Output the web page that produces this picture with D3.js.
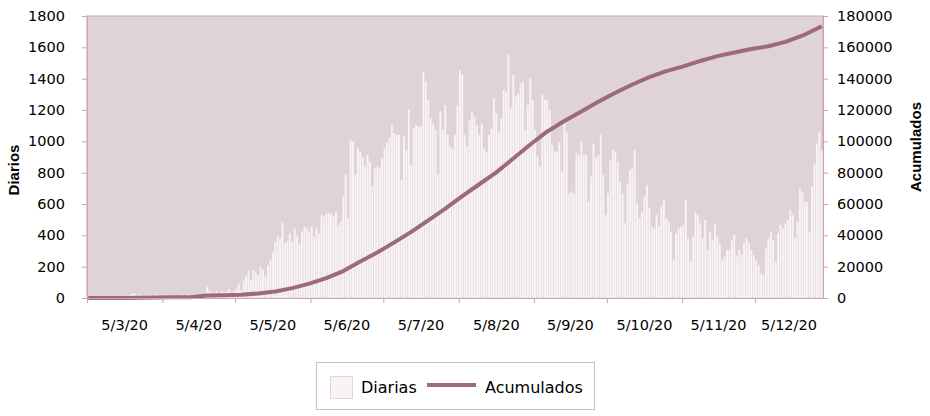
<!DOCTYPE html>
<html>
<head>
<meta charset="utf-8">
<script src="https://cdn.jsdelivr.net/npm/d3@7"></script>
<style>
  body { margin: 0; background: #fff; }
  svg text { font-family: "DejaVu Sans", sans-serif; fill: #000; }
  .axis .domain, .axis line { stroke: #cfa2b2; }
</style>
</head>
<body>
<svg id="chart" width="930" height="416"></svg>
<script>
"use strict";

// --- data ---

const fechaInicio = "2020-03-05"
const fechaFin = "2021-01-02"   // axis end, one day after the last bar

// casos diarios, one value per day from 5/3/20
const diarios = [
    0,0,0,0,0,0,0,0,0,0,0,2,0,3,5,
    12,4,18,25,30,10,22,8,15,20,
    18,22,12,25,20,10,18,22,15,8,
    20,12,5,15,22,10,25,20,8,15,
    18,5,12,20,70,45,30,35,40,25,
    45,35,40,55,30,45,60,90,50,110,
    140,170,
    115,179,160,147,200,179,136,210,243,290,
    360,396,381,481,349,360,413,360,445,400,
    349,423,455,445,423,455,391,445,413,530,
    519,540,540,540,520,551,466,487,647,785,
    509,1009,998,785,955,934,900,838,913,870,
    711,828,838,
    828,892,955,992,1019,1104,1051,1041,1041,753,
    1030,945,1204,849,1083,1104,1094,1094,1445,1381,
    1264,1147,1115,1072,785,1190,1072,1232,1041,966,
    955,1041,1232,1455,1424,1041,966,1136,1190,1157,
    1104,1041,1115,955,934,1041,1083,1274,1179,1062,
    1147,1328,1317,1551,1211,1424,1285,1306,1370,1381,
    1072,1232,1402,1264,1072,902,838,1296,1264,1264,
    1200,977,934,934,
    998,806,1115,1062,668,679,668,923,913,998,
    913,913,615,775,987,892,913,1041,785,530,
    668,881,945,934,870,743,668,477,732,817,
    828,945,604,509,551,647,721,572,455,445,
    530,455,583,626,509,487,423,243,413,445,
    455,466,626,381,232,392,551,530,
    477,381,498,306,423,370,477,392,349,243,
    264,306,306,370,402,264,306,275,349,381,
    349,306,275,243,211,157,147,317,381,423,
    370,232,413,466,445,477,498,562,530,381,
    487,700,679,615,615,423,711,860,987,1062,
    945
]

// acumulados, read at roughly weekly steps (days since 5/3/20)
const acumDias = [0,7,14,21,28,35,42,49,56,63,70,77,84,91,98,105,112,119,126,133,140,147,
    154,161,168,175,182,189,196,203,210,217,224,231,238,245,252,259,266,273,280,287,294,302]
const acumulados = [0,0,0,150,280,400,500,1600,1800,2100,2900,4200,6300,9200,12700,17200,
    23300,29000,35500,42200,49600,57000,65000,72600,80200,89000,98000,106300,113000,119000,
    125200,131000,136300,141000,144800,147800,151300,154400,156700,158900,160700,163500,
    167400,173500]

const ticksDiarios = [0, 200, 400, 600, 800, 1000, 1200, 1400, 1600, 1800]
const ticksAcumulados = [0, 20000, 40000, 60000, 80000, 100000, 120000, 140000, 160000, 180000]
const mesesEtiqueta = ["2020-03-05","2020-04-05","2020-05-05","2020-06-05","2020-07-05",
    "2020-08-05","2020-09-05","2020-10-05","2020-11-05","2020-12-05"]

// --- layout ---

const plot = { left: 87, right: 823, top: 16, bottom: 298 }
const colors = {
    plotBg: "#dfd3d6",
    bar: "#f8f4f6",
    line: "#9d6b78",
    border: "#cfa2b2"
}

const svg = d3.select("#chart")
const parse = d3.utcParse("%Y-%m-%d")
const start = parse(fechaInicio)
const end = parse(fechaFin)

const x = d3.scaleUtc().domain([start, end]).range([plot.left, plot.right])
const yLeft = d3.scaleLinear().domain([0, 1800]).range([plot.bottom, plot.top])
const yRight = d3.scaleLinear().domain([0, 180000]).range([plot.bottom, plot.top])

const dayDate = (i) => d3.utcDay.offset(start, i)
const dayWidth = x(dayDate(1)) - x(start)

// plot background
svg.append("rect")
    .attr("x", plot.left).attr("y", plot.top)
    .attr("width", plot.right - plot.left)
    .attr("height", plot.bottom - plot.top)
    .attr("fill", colors.plotBg)
    .attr("stroke", colors.border)
    .attr("stroke-width", 1)

// daily bars
svg.append("g")
    .selectAll("rect")
    .data(diarios)
    .join("rect")
    .attr("x", (d, i) => x(dayDate(i)) + dayWidth * 0.12)
    .attr("width", dayWidth * 0.76)
    .attr("y", d => yLeft(d))
    .attr("height", d => plot.bottom - yLeft(d))
    .attr("fill", colors.bar)

// cumulative line
const line = d3.line()
    .x((d, i) => x(dayDate(acumDias[i])) + dayWidth / 2)
    .y(d => yRight(d))

svg.append("path")
    .datum(acumulados)
    .attr("d", line)
    .attr("fill", "none")
    .attr("stroke", colors.line)
    .attr("stroke-width", 4)
    .attr("stroke-linejoin", "round")

// --- axes ---

const plain = d3.format("d")

const leftAxis = svg.append("g")
    .attr("class", "axis")
    .attr("transform", `translate(${plot.left},0)`)
    .call(d3.axisLeft(yLeft).tickValues(ticksDiarios).tickFormat(plain)
        .tickSize(5).tickPadding(17).tickSizeOuter(0))
leftAxis.selectAll("text").style("font-size", "14.5px")

const rightAxis = svg.append("g")
    .attr("class", "axis")
    .attr("transform", `translate(${plot.right},0)`)
    .call(d3.axisRight(yRight).tickValues(ticksAcumulados).tickFormat(plain)
        .tickSize(5).tickPadding(9).tickSizeOuter(0))
rightAxis.selectAll("text").style("font-size", "14.5px")

const monthTicks = mesesEtiqueta.map(parse)
svg.append("g")
    .attr("class", "axis")
    .attr("transform", `translate(0,${plot.bottom})`)
    .call(d3.axisBottom(x).tickValues(monthTicks).tickSize(5).tickFormat("").tickSizeOuter(0))

// month labels sit in the middle of each month band
const fmt = d3.utcFormat("%-d/%-m/%y")
svg.append("g")
    .selectAll("text")
    .data(monthTicks)
    .join("text")
    .attr("x", (d, i) => {
        const x0 = x(d)
        const x1 = i < monthTicks.length - 1 ? x(monthTicks[i + 1]) : plot.right
        return (x0 + x1) / 2
    })
    .attr("y", 330)
    .attr("text-anchor", "middle")
    .style("font-size", "14.5px")
    .text(d => fmt(d))

// axis titles
svg.append("text")
    .attr("transform", "translate(19,170) rotate(-90)")
    .attr("text-anchor", "middle")
    .style("font-family", "'Liberation Sans', Arial, sans-serif")
    .style("font-weight", "bold")
    .style("font-size", "15px")
    .text("Diarios")

svg.append("text")
    .attr("transform", "translate(921,147) rotate(-90)")
    .attr("text-anchor", "middle")
    .style("font-family", "'Liberation Sans', Arial, sans-serif")
    .style("font-weight", "bold")
    .style("font-size", "15px")
    .text("Acumulados")

// --- legend ---

const legend = svg.append("g")
legend.append("rect")
    .attr("x", 316.5).attr("y", 362.5).attr("width", 278).attr("height", 47)
    .attr("fill", "#fff")
    .attr("stroke", "#d9b8c4")
legend.append("rect")
    .attr("x", 330.5).attr("y", 376.5).attr("width", 22).attr("height", 22)
    .attr("fill", colors.bar)
    .attr("stroke", "#e6d3da")
legend.append("text")
    .attr("x", 361).attr("y", 393)
    .style("font-size", "16px")
    .text("Diarias")
legend.append("line")
    .attr("x1", 427).attr("x2", 476).attr("y1", 385).attr("y2", 385)
    .attr("stroke", colors.line)
    .attr("stroke-width", 4)
legend.append("text")
    .attr("x", 485).attr("y", 393)
    .style("font-size", "16px")
    .text("Acumulados")
</script>
</body>
</html>
